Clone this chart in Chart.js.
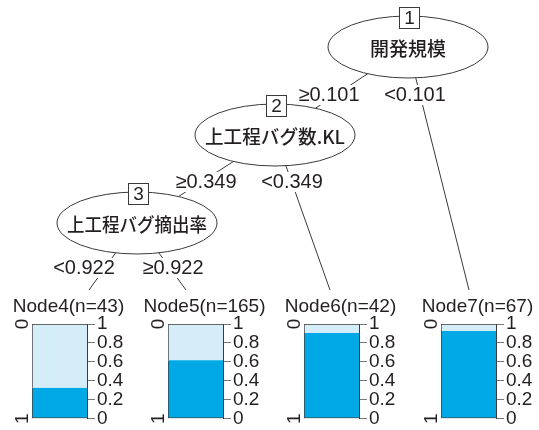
<!DOCTYPE html>
<html>
<head>
<meta charset="utf-8">
<script src="https://cdn.jsdelivr.net/npm/chart.js@4.4.1/dist/chart.umd.min.js"></script>
<style>
  body { margin: 0; background: #fff; }
  #wrap { position: relative; width: 539px; height: 430px; }
  #wrap canvas { position: absolute; }
</style>
</head>
<body>
<div id="wrap">
  <canvas id="tree" width="539" height="430" style="left:0;top:0"></canvas>
</div>
<script>
// nodos internos del arbol
const nodeNames = ['開発規模', '上工程バグ数.KL', '上工程バグ摘出率'];
const nodeX = [408, 275, 137];
const nodeY = [47, 135, 223];

// hojas: punto donde llega la rama
const leafTopX = [89, 186, 330, 469];
const leafTopY = 290;

// ramas (indices >= 3 son hojas)
const edgeFrom = [0, 0, 1, 1, 2, 2];
const edgeTo = [1, 6, 2, 5, 3, 4];

// etiquetas de corte
const splitText = ['≥0.101', '<0.101', '≥0.349', '<0.349', '<0.922', '≥0.922'];
const splitX = [329, 415, 206, 292, 84, 173];
const splitY = [95, 95, 182, 182, 268, 268];

// hojas
const leafNames = ['Node4', 'Node5', 'Node6', 'Node7'];
const leafN = [43, 165, 42, 67];
const share1 = [0.326, 0.618, 0.905, 0.925];
const share0 = share1.map(v => 1 - v);
const yTicks = [0, 0.2, 0.4, 0.6, 0.8, 1];
const leafLeft = [0, 136, 272, 409];

const DARK = '#00a9e6';
const LIGHT = '#d5ecf9';
const LINE = '#3a3a3a';
const TEXT = '#231f20';
const LATIN = '"Liberation Sans", Arial, sans-serif';
const CJK = '"Noto Sans CJK JP", sans-serif';

function pointOf(idx) {
  if (idx < 3) return { x: nodeX[idx], y: nodeY[idx] };
  return { x: leafTopX[idx - 3], y: leafTopY };
}

const edgeSets = edgeFrom.map((f, k) => ({
  data: [pointOf(f), pointOf(edgeTo[k])],
  showLine: true,
  borderColor: LINE,
  borderWidth: 1,
  pointRadius: 0
}));

// dibuja elipses, numeros y etiquetas encima de las ramas
const treeDraw = {
  id: 'treeDraw',
  afterDatasetsDraw(chart) {
    const { ctx } = chart;
    const sx = chart.scales.x, sy = chart.scales.y;
    ctx.save();
    ctx.textAlign = 'center';
    ctx.textBaseline = 'middle';

    ctx.font = '20px ' + LATIN;
    splitText.forEach((t, k) => {
      const x = sx.getPixelForValue(splitX[k]);
      const y = sy.getPixelForValue(splitY[k]);
      const w = ctx.measureText(t).width;
      ctx.fillStyle = '#fff';
      ctx.fillRect(x - w / 2 - 2, y - 10, w + 4, 20);
      ctx.fillStyle = TEXT;
      ctx.fillText(t, x, y);
    });

    nodeNames.forEach((name, k) => {
      const x = sx.getPixelForValue(nodeX[k]);
      const y = sy.getPixelForValue(nodeY[k]);
      ctx.beginPath();
      ctx.ellipse(x, y, 80, 31, 0, 0, 2 * Math.PI);
      ctx.fillStyle = '#fff';
      ctx.fill();
      ctx.strokeStyle = LINE;
      ctx.lineWidth = 1;
      ctx.stroke();
      ctx.fillStyle = TEXT;
      ctx.font = '500 19px ' + CJK;
      ctx.fillText(name, x, y + 2, 140);

      // caja con el numero de nodo
      const bx = Math.round(x + 1) - 10 + 0.5, by = Math.round(y - 31) - 9 + 0.5;
      ctx.fillStyle = '#fff';
      ctx.fillRect(bx, by, 20, 21);
      ctx.strokeRect(bx, by, 20, 21);
      ctx.fillStyle = TEXT;
      ctx.font = '19px ' + LATIN;
      ctx.fillText(String(k + 1), bx + 10, by + 11);
    });
    ctx.restore();
  }
};

new Chart(document.getElementById('tree').getContext('2d'), {
  type: 'scatter',
  data: { datasets: edgeSets },
  options: {
    responsive: false,
    animation: false,
    layout: { padding: 0 },
    plugins: { legend: { display: false }, tooltip: { enabled: false } },
    scales: {
      x: { type: 'linear', min: 0, max: 539, display: false },
      y: { type: 'linear', min: 0, max: 430, reverse: true, display: false }
    }
  },
  plugins: [treeDraw]
});

// graficas de las hojas
const wrap = document.getElementById('wrap');
leafNames.forEach((name, i) => {
  const cv = document.createElement('canvas');
  cv.width = 134;
  cv.height = 136;
  cv.style.left = leafLeft[i] + 'px';
  cv.style.top = '296px';
  wrap.appendChild(cv);

  const leafText = {
    id: 'leafText',
    afterDraw(chart) {
      const { ctx, chartArea } = chart;
      const sy = chart.scales.y;
      ctx.save();
      ctx.fillStyle = TEXT;
      ctx.textAlign = 'center';
      ctx.textBaseline = 'middle';
      ctx.font = '19px ' + LATIN;
      ctx.fillText(name + '(n=' + leafN[i] + ')', (chartArea.left + chartArea.right) / 2 + 9, chartArea.top - 17);
      // etiquetas de clase giradas a la izquierda
      [[1, '0'], [0, '1']].forEach(([v, t]) => {
        ctx.save();
        ctx.translate(chartArea.left - 9, sy.getPixelForValue(v));
        ctx.rotate(-Math.PI / 2);
        ctx.fillText(t, 0, 0);
        ctx.restore();
      });
      ctx.restore();
    }
  };

  new Chart(cv.getContext('2d'), {
    type: 'bar',
    data: {
      labels: [name],
      datasets: [
        { data: [share1[i]], backgroundColor: DARK, borderColor: LINE,
          borderWidth: { left: 1, bottom: 1, top: 0, right: 0 }, borderSkipped: false },
        { data: [share0[i]], backgroundColor: LIGHT, borderColor: LINE,
          borderWidth: { left: 1, top: 1, bottom: 0, right: 0 }, borderSkipped: false }
      ]
    },
    options: {
      responsive: false,
      animation: false,
      layout: { padding: { left: 32, top: 28, bottom: 12, right: 0 } },
      plugins: { legend: { display: false }, tooltip: { enabled: false } },
      datasets: { bar: { barPercentage: 1, categoryPercentage: 1 } },
      scales: {
        x: { stacked: true, display: false },
        y: {
          stacked: true,
          position: 'right',
          min: 0,
          max: 1,
          afterBuildTicks: s => { s.ticks = yTicks.map(v => ({ value: v })); },
          afterFit: s => { s.width = 47; },
          ticks: { color: TEXT, font: { family: LATIN, size: 19 }, padding: 2, autoSkip: false,
                   callback: v => String(v) },
          grid: { drawOnChartArea: false, tickLength: 8, color: '#777' },
          border: { display: true, color: LINE }
        }
      }
    },
    plugins: [leafText]
  });
});
</script>
</body>
</html>
